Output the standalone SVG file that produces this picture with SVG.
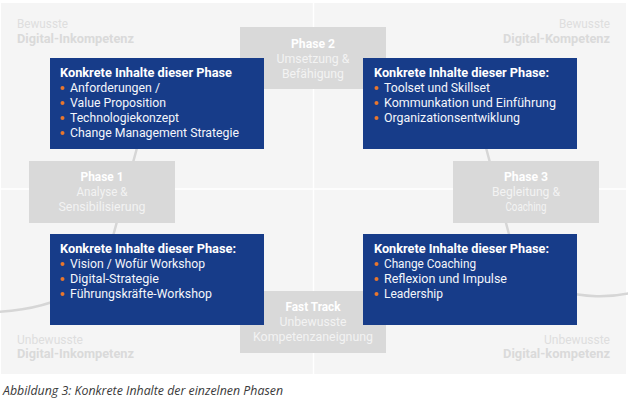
<svg xmlns="http://www.w3.org/2000/svg" width="628" height="409" viewBox="0 0 628 409">
  <defs>
    <style>
      .panel { fill: #f5f5f5; }
      .divider { stroke: #ffffff; stroke-width: 1.5; }
      .path { fill: none; stroke: #d6d6d6; stroke-width: 2.5; }
      .blue { fill: #173c89; }
      .grey { fill: #d9d9d9; }
      .t { font-family: Roboto, "Liberation Sans", sans-serif; font-size: 12.5px; }
      .head { font-weight: bold; fill: #ffffff; }
      .item { fill: #f4f6fb; }
      .dot { fill: #e8762d; }
      .ph { font-weight: bold; fill: #ffffff; text-anchor: middle; }
      .phs { fill: #f3f3f3; text-anchor: middle; }
      .corner { fill: #dedede; }
      .cornerb { fill: #dadada; font-weight: bold; }
      .end { text-anchor: end; }
      .cap { font-family: "Open Sans", "Liberation Sans", sans-serif; font-style: italic; font-size: 12px; fill: #3a3a3a; }
    </style>
  </defs>

  <!-- background quadrants -->
  <rect class="panel" x="1" y="3" width="625" height="371"/>
  <line class="divider" x1="313.5" y1="3" x2="313.5" y2="374"/>
  <line class="divider" x1="1" y1="189" x2="626" y2="189"/>

  <!-- quadrant labels -->
  <g id="label-top-left" class="t">
    <text class="corner" x="17" y="28" textLength="51" lengthAdjust="spacingAndGlyphs">Bewusste</text>
    <text class="cornerb" x="17" y="43" textLength="117" lengthAdjust="spacingAndGlyphs">Digital-Inkompetenz</text>
  </g>
  <g id="label-top-right" class="t">
    <text class="corner" x="559" y="28" textLength="51" lengthAdjust="spacingAndGlyphs">Bewusste</text>
    <text class="cornerb" x="503" y="43" textLength="107" lengthAdjust="spacingAndGlyphs">Digital-Kompetenz</text>
  </g>
  <g id="label-bottom-left" class="t">
    <text class="corner" x="17" y="344" textLength="66" lengthAdjust="spacingAndGlyphs">Unbewusste</text>
    <text class="cornerb" x="17" y="358" textLength="117" lengthAdjust="spacingAndGlyphs">Digital-Inkompetenz</text>
  </g>
  <g id="label-bottom-right" class="t">
    <text class="corner" x="544" y="344" textLength="66" lengthAdjust="spacingAndGlyphs">Unbewusste</text>
    <text class="cornerb" x="503" y="358" textLength="107" lengthAdjust="spacingAndGlyphs">Digital-kompetenz</text>
  </g>

  <!-- connecting curves -->
  <g id="connectors">
    <path class="path" d="M -2 312 C 60 308, 104 285, 112 240 L 150 100"/>
    <path class="path" d="M 630 293 C 590 302, 525 295, 510 238 L 476 110"/>
  </g>

  <!-- phase boxes -->
  <g id="phase-2" class="t">
    <rect class="grey" x="240" y="27" width="146" height="62"/>
    <text class="ph" x="313" y="48" textLength="44" lengthAdjust="spacingAndGlyphs">Phase 2</text>
    <text class="phs" x="313" y="63" textLength="73" lengthAdjust="spacingAndGlyphs">Umsetzung &amp;</text>
    <text class="phs" x="313" y="78" textLength="62" lengthAdjust="spacingAndGlyphs">Befähigung</text>
  </g>
  <g id="phase-1" class="t">
    <rect class="grey" x="29" y="161" width="146" height="62"/>
    <text class="ph" x="102" y="181" textLength="43" lengthAdjust="spacingAndGlyphs">Phase 1</text>
    <text class="phs" x="102" y="196" textLength="51" lengthAdjust="spacingAndGlyphs">Analyse &amp;</text>
    <text class="phs" x="102" y="211" textLength="87" lengthAdjust="spacingAndGlyphs">Sensibilisierung</text>
  </g>
  <g id="phase-3" class="t">
    <rect class="grey" x="453" y="161" width="146" height="62"/>
    <text class="ph" x="526" y="181" textLength="44" lengthAdjust="spacingAndGlyphs">Phase 3</text>
    <text class="phs" x="526" y="196" textLength="68" lengthAdjust="spacingAndGlyphs">Begleitung &amp;</text>
    <text class="phs" x="526" y="211" textLength="41" lengthAdjust="spacingAndGlyphs">Coaching</text>
  </g>
  <g id="fast-track" class="t">
    <rect class="grey" x="240" y="291" width="146" height="62"/>
    <text class="ph" x="313" y="311" textLength="55" lengthAdjust="spacingAndGlyphs">Fast Track</text>
    <text class="phs" x="313" y="326" textLength="67" lengthAdjust="spacingAndGlyphs">Unbewusste</text>
    <text class="phs" x="313" y="341" textLength="120" lengthAdjust="spacingAndGlyphs">Kompetenzaneignung</text>
  </g>

  <!-- content boxes -->
  <g id="content-top-left" class="t">
    <rect class="blue" x="50" y="58" width="214" height="91"/>
    <text class="head" x="60" y="77" textLength="172" lengthAdjust="spacingAndGlyphs">Konkrete Inhalte dieser Phase</text>
    <circle class="dot" cx="62.5" cy="88" r="2"/>
    <text class="item" x="70" y="92" textLength="90" lengthAdjust="spacingAndGlyphs">Anforderungen /</text>
    <circle class="dot" cx="62.5" cy="103" r="2"/>
    <text class="item" x="70" y="107" textLength="96" lengthAdjust="spacingAndGlyphs">Value Proposition</text>
    <circle class="dot" cx="62.5" cy="118" r="2"/>
    <text class="item" x="70" y="122" textLength="109" lengthAdjust="spacingAndGlyphs">Technologiekonzept</text>
    <circle class="dot" cx="62.5" cy="133" r="2"/>
    <text class="item" x="70" y="137" textLength="169" lengthAdjust="spacingAndGlyphs">Change Management Strategie</text>
  </g>
  <g id="content-top-right" class="t">
    <rect class="blue" x="363" y="58" width="214" height="91"/>
    <text class="head" x="374" y="77" textLength="175" lengthAdjust="spacingAndGlyphs">Konkrete Inhalte dieser Phase:</text>
    <circle class="dot" cx="376.5" cy="88" r="2"/>
    <text class="item" x="384" y="92" textLength="106" lengthAdjust="spacingAndGlyphs">Toolset und Skillset</text>
    <circle class="dot" cx="376.5" cy="103" r="2"/>
    <text class="item" x="384" y="107" textLength="172" lengthAdjust="spacingAndGlyphs">Kommunkation und Einführung</text>
    <circle class="dot" cx="376.5" cy="118" r="2"/>
    <text class="item" x="384" y="122" textLength="136" lengthAdjust="spacingAndGlyphs">Organizationsentwiklung</text>
  </g>
  <g id="content-bottom-left" class="t">
    <rect class="blue" x="50" y="234" width="214" height="91"/>
    <text class="head" x="60" y="253" textLength="176" lengthAdjust="spacingAndGlyphs">Konkrete Inhalte dieser Phase:</text>
    <circle class="dot" cx="62.5" cy="264" r="2"/>
    <text class="item" x="70" y="268" textLength="135" lengthAdjust="spacingAndGlyphs">Vision / Wofür Workshop</text>
    <circle class="dot" cx="62.5" cy="279" r="2"/>
    <text class="item" x="70" y="283" textLength="89" lengthAdjust="spacingAndGlyphs">Digital-Strategie</text>
    <circle class="dot" cx="62.5" cy="294" r="2"/>
    <text class="item" x="70" y="298" textLength="142" lengthAdjust="spacingAndGlyphs">Führungskräfte-Workshop</text>
  </g>
  <g id="content-bottom-right" class="t">
    <rect class="blue" x="363" y="234" width="214" height="91"/>
    <text class="head" x="374" y="253" textLength="175" lengthAdjust="spacingAndGlyphs">Konkrete Inhalte dieser Phase:</text>
    <circle class="dot" cx="376.5" cy="264" r="2"/>
    <text class="item" x="384" y="268" textLength="92" lengthAdjust="spacingAndGlyphs">Change Coaching</text>
    <circle class="dot" cx="376.5" cy="279" r="2"/>
    <text class="item" x="384" y="283" textLength="123" lengthAdjust="spacingAndGlyphs">Reflexion und Impulse</text>
    <circle class="dot" cx="376.5" cy="294" r="2"/>
    <text class="item" x="384" y="298" textLength="59" lengthAdjust="spacingAndGlyphs">Leadership</text>
  </g>

  <!-- caption -->
  <text class="cap" x="3" y="395" textLength="280" lengthAdjust="spacingAndGlyphs">Abbildung 3: Konkrete Inhalte der einzelnen Phasen</text>
</svg>
